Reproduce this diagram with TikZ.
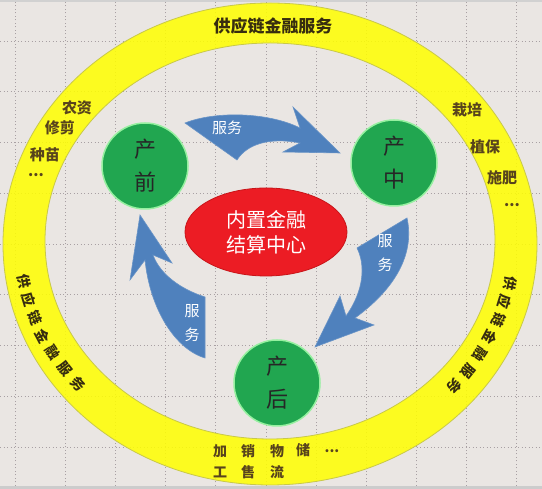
\documentclass[tikz,border=0pt]{standalone}
\usepackage{fontspec}
\setmainfont{Noto Sans CJK SC}
\usepackage{tikz}
\usetikzlibrary{shapes.geometric}

\definecolor{paper}{RGB}{234,230,227}
\definecolor{gridc}{RGB}{168,160,163}
\definecolor{ringy}{RGB}{255,255,0}
\definecolor{ringe}{RGB}{200,200,74}
\definecolor{stagec}{RGB}{33,166,80}
\definecolor{stagee}{RGB}{150,240,160}
\definecolor{hubc}{RGB}{236,28,36}
\definecolor{hube}{RGB}{200,20,24}
\definecolor{flowc}{RGB}{79,129,189}
\definecolor{ringtxtc}{RGB}{55,45,15}
\definecolor{itemc}{RGB}{88,68,28}

\begin{document}
\begin{tikzpicture}[x=1pt,y=1pt,
  stage/.style={circle,fill=stagec,draw=stagee,line width=1.5pt,minimum size=86pt,inner sep=0pt,
    align=center,font=\fontsize{22}{33}\selectfont,text=black!85},
  flow/.style={fill=flowc,draw=flowc!85!white,line width=0.6pt},
  flowtxt/.style={text=white,align=center,font=\fontsize{15}{24}\selectfont},
  ringtxt/.style={text=ringtxtc,inner sep=0pt,font=\fontsize{17}{17}\selectfont\bfseries},
  sidetxt/.style={text=ringtxtc,inner sep=0pt,font=\fontsize{14}{14}\selectfont\bfseries},
  item/.style={text=itemc,inner sep=0pt,font=\fontsize{15}{15}\selectfont\bfseries},
  small/.style={text=itemc,inner sep=0pt,font=\fontsize{14}{14}\selectfont\bfseries}]
  \useasboundingbox (0,0) rectangle (542,489);
  \fill[paper] (0,0) rectangle (542,489);
  \fill[black!20] (0,0) rectangle (542,3);
  \fill[black!18] (0,487) rectangle (542,489);
  % dotted grid
  \foreach \gx in {0,...,10}
    \draw[gridc,line width=0.9pt,dash pattern=on 1pt off 2.5pt] ({15.5+50.1*\gx},3) -- ({15.5+50.1*\gx},487);
  \foreach \gy in {0,...,8}
    \draw[gridc,line width=0.9pt,dash pattern=on 1pt off 2.5pt] (0,{448-50.75*\gy}) -- (542,{448-50.75*\gy});

  % ring
  \draw[ringe,fill=ringy,fill opacity=0.86,even odd rule,line width=0.8pt]
    (270,245) ellipse [x radius=267,y radius=241]
    (270,248) ellipse [x radius=225,y radius=198];
  \node[ringtxt] (title) at (273,463) {供应链金融服务};
  \foreach \ch [count=\i from 0] in {供,应,链,金,融,服,务} {
    \pgfmathsetmacro\ta{190+5*\i}
    \pgfmathsetmacro\ra{atan2(220*cos(\ta),-247*sin(\ta))}
    \node[sidetxt,rotate=\ra] (L\i) at ({267+247*cos(\ta)},{246+220*sin(\ta)}) {\ch};
    \pgfmathsetmacro\tb{-10.5-5*\i}
    \pgfmathsetmacro\rb{atan2(-220*cos(\tb),247*sin(\tb))}
    \node[sidetxt,rotate=\rb] (R\i) at ({267+247*cos(\tb)},{246+220*sin(\tb)}) {\ch};
  }

  % items
  \node[item] (nz) at (77,381) {农资};
  \node[item] (xj) at (60,361) {修剪};
  \node[item] (zm) at (45,334) {种苗};
  \node[item] (ld) at (36,314) {...};
  \node[item] (zp) at (467,379) {栽培};
  \node[item] (zb) at (485,342) {植保};
  \node[item] (sf) at (502,311) {施肥};
  \node[item] (rd) at (512,284) {...};
  \foreach \bx/\up/\dn [count=\i] in {220/加/工,248/销/售,277/物/流} {
    \node[small] (bu\i) at (\bx,38) {\up};
    \node[small] (bd\i) at (\bx,17) {\dn};
  }
  \node[small] (bu4) at (303,39) {储};
  \node[small] (bd4) at (332,38) {...};

  % flows
  \draw[flow] (185,366) .. controls (215,378) and (268,377) .. (300,361) -- (293,382) -- (340,336)
    -- (283,337) -- (300,346) .. controls (270,352) and (247,345) .. (237,329) -- cycle;
  \draw[flow] (407,271) .. controls (415,235) and (395,200) .. (355,171) -- (374,164) -- (315,142)
    -- (340,193) -- (346,173) .. controls (365,200) and (365,225) .. (357,241) -- cycle;
  \draw[flow] (140,274) -- (130,209) -- (145,229) .. controls (150,180) and (175,140) .. (205,131)
    -- (205,192) .. controls (180,200) and (160,215) .. (153,234) -- (172,226) -- cycle;
  \node[flowtxt] (s1) at (227,361) {服务};
  \node[flowtxt] (s2) at (385,236) {服\\务};
  \node[flowtxt] (s3) at (192,166) {服\\务};

  % stages
  \node[stage] (pre) at (145,323) {产\\前};
  \node[stage] (mid) at (394,326) {产\\中};
  \node[stage] (post) at (277,106) {产\\后};
  \node[ellipse,fill=hubc,draw=hube,line width=0.8pt,minimum width=162pt,minimum height=88pt,
    text=white,align=center,font=\fontsize{20}{25}\selectfont] (hub) at (266,257) {内置金融\\结算中心};
\end{tikzpicture}
\end{document}
